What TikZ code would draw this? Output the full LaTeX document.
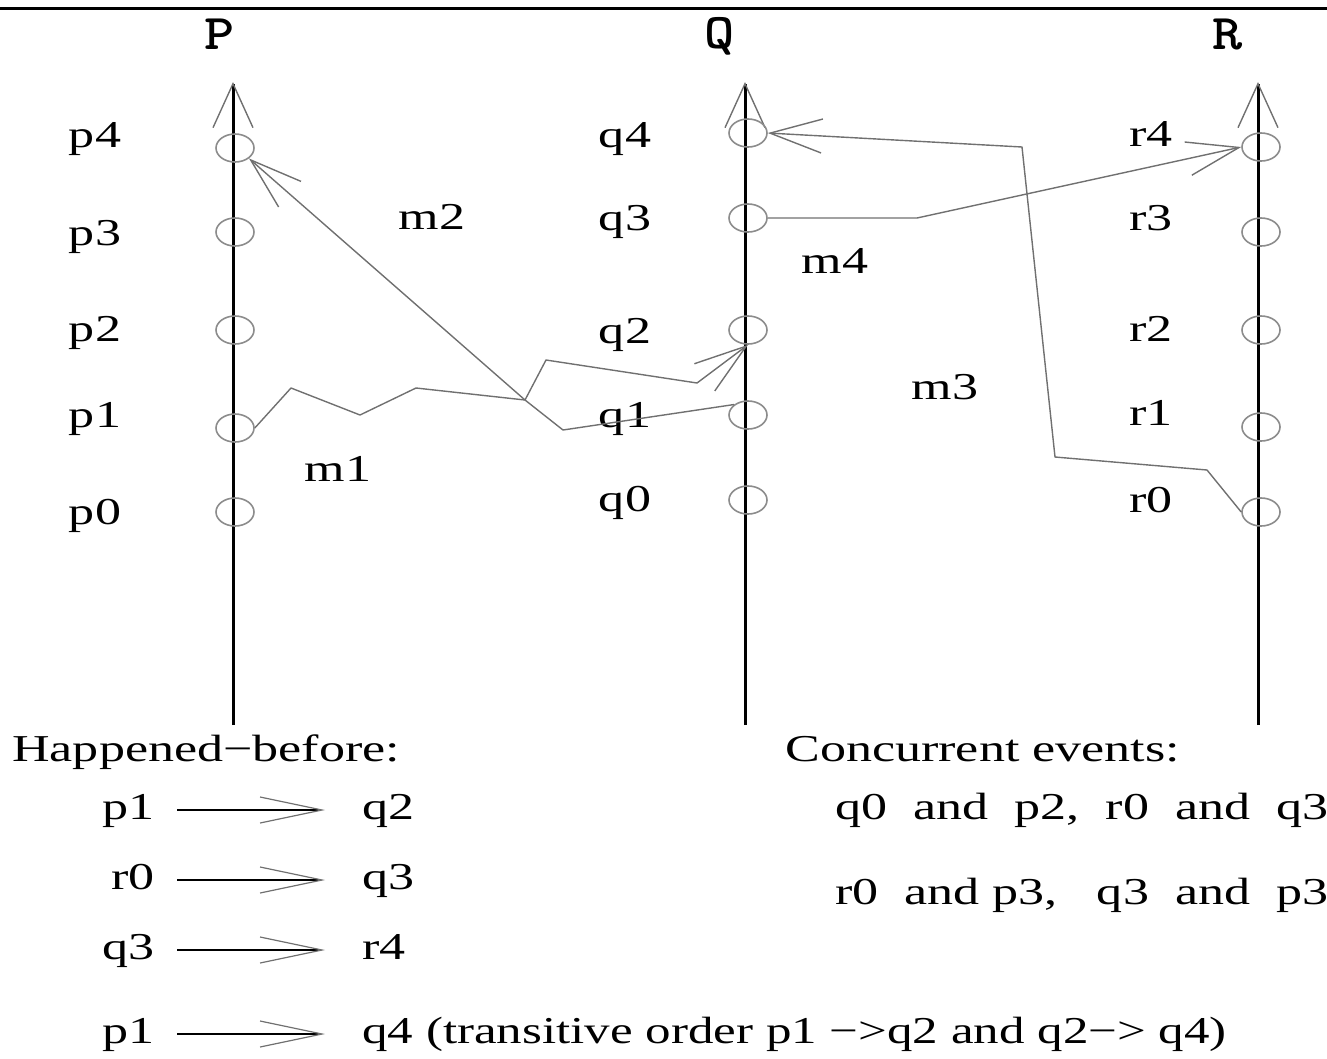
\documentclass[tikz,border=0pt]{standalone}
\usepackage{fontspec}
\setmainfont{Liberation Serif}
\definecolor{msgGray}{HTML}{707070}
\definecolor{evtGray}{HTML}{8C8C8C}
\usetikzlibrary{arrows.meta,shapes.geometric}

\begin{document}
\begin{tikzpicture}[x=1pt,y=-1pt,
  axis/.style={black,line width=3pt,-{Straight Barb[length=44pt,width=40pt,line width=1.4pt,color=msgGray]}},
  msg/.style={msgGray,line width=1.4pt,line join=round,-{Straight Barb[length=52pt,width=34pt]}},
  hb/.style={black,line width=2pt,shorten <=22pt,shorten >=37pt,-{Straight Barb[length=62pt,width=26pt,line width=1.2pt,color=msgGray]}},
  evt/.style={ellipse,draw=evtGray,line width=1.6pt,minimum width=38pt,minimum height=28pt,inner sep=0pt},
  lbl/.style={font=\fontsize{38}{40}\selectfont,xscale=1.37,inner sep=0pt,text height=26pt,text depth=8pt},
  proc/.style={font=\ttfamily\bfseries\fontsize{50}{52}\selectfont,xscale=1.15,inner sep=0pt}]
  \useasboundingbox (0,0) rectangle (1327,1058);
  \draw[line width=3pt] (0,8) -- (1327,8);
  % processes
  \node[proc] (P) at (220,34) {P};
  \node[proc] (Q) at (720,36) {Q};
  \node[proc] (R) at (1228,34) {R};
  \coordinate (Pb) at (233,725); \coordinate (Pt) at (233,82);
  \coordinate (Qb) at (745,725); \coordinate (Qt) at (745,82);
  \coordinate (Rb) at (1258,725); \coordinate (Rt) at (1258,82);
  \draw[axis] (Pb) -- (Pt);
  \draw[axis] (Qb) -- (Qt);
  \draw[axis] (Rb) -- (Rt);
  % events
  \foreach \i/\y/\ly in {0/512/515,1/428/418,2/330/332,3/232/236,4/148/138} {
    \node[evt] (p\i) at (235,\y) {};
    \node[lbl] (p\i l) at (95,\ly) {p\i};
  }
  \foreach \i/\y/\ly in {0/500/502,1/415/418,2/330/334,3/218/221,4/133/138} {
    \node[evt] (q\i) at (748,\y) {};
    \node[lbl] (q\i l) at (625,\ly) {q\i};
  }
  \foreach \i/\y/\ly in {0/512/503,1/427/416,2/330/332,3/232/221,4/147/137} {
    \node[evt] (r\i) at (1261,\y) {};
    \node[lbl] (r\i l) at (1151,\ly) {r\i};
  }
  % messages
  \coordinate (cross) at (525,400);
  \draw[msg] (p1.east) -- (291,388) -- (360,415) -- (416,388) -- (cross) -- (546,360) -- (697,383) -- (q2.south);
  \draw[msg] (q1.north west) -- (563,430) -- (cross) -- (p4.south east);
  \draw[msg] (r0.west) -- (1207,470) -- (1055,457) -- (1022,147) -- (q4.east);
  \draw[msg] (q3.east) -- (917,218) -- (r4.west);
  \node[lbl] (m1) at (338,472) {m1};
  \node[lbl] (m2) at (432,220) {m2};
  \node[lbl] (m3) at (945,390) {m3};
  \node[lbl] (m4) at (835,264) {m4};
  % happened-before
  \node[lbl,anchor=west] (hb) at (12,752) {Happened−before:};
  \node[lbl,anchor=east] (a1) at (155,810) {p1};
  \node[lbl,anchor=west] (b1) at (362,810) {q2};
  \node[lbl,anchor=east] (a2) at (155,880) {r0};
  \node[lbl,anchor=west] (b2) at (362,880) {q3};
  \node[lbl,anchor=east] (a3) at (155,950) {q3};
  \node[lbl,anchor=west] (b3) at (362,950) {r4};
  \node[lbl,anchor=east] (a4) at (155,1034) {p1};
  \node[lbl,anchor=west,xscale=0.98] (b4) at (362,1034) {q4 (transitive order p1 −>q2 and q2−> q4)};
  \draw[hb] (a1) -- (b1);
  \draw[hb] (a2) -- (b2);
  \draw[hb] (a3) -- (b3);
  \draw[hb] (a4) -- (b4.west);
  % concurrent events
  \node[lbl,anchor=west] (ce) at (785,752) {Concurrent events:};
  \node[lbl,anchor=west] (c1) at (835,810) {q0\ \ and\ \ p2,\ \ r0\ \ and\ \ q3};
  \node[lbl,anchor=west] (c2) at (835,895) {r0\ \ and p3,\ \ \ q3\ \ and\ \ p3};
\end{tikzpicture}
\end{document}
